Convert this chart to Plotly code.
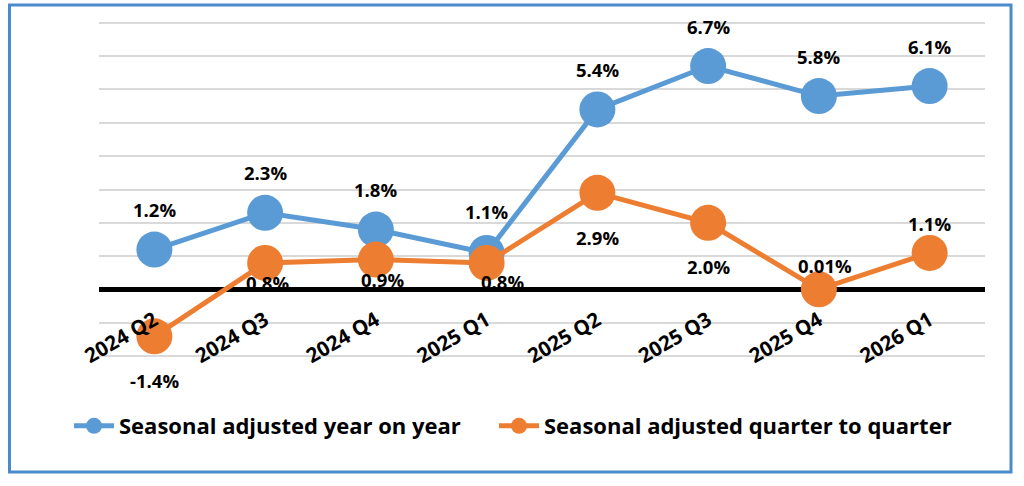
import plotly.graph_objects as go

categories = ["2024 Q2", "2024 Q3", "2024 Q4", "2025 Q1", "2025 Q2", "2025 Q3", "2025 Q4", "2026 Q1"]
yoy_values = [1.2, 2.3, 1.8, 1.1, 5.4, 6.7, 5.8, 6.1]
qoq_values = [-1.4, 0.8, 0.9, 0.8, 2.9, 2.0, 0.01, 1.1]
yoy_labels = ["1.2%", "2.3%", "1.8%", "1.1%", "5.4%", "6.7%", "5.8%", "6.1%"]
qoq_labels = ["-1.4%", "0.8%", "0.9%", "0.8%", "2.9%", "2.0%", "0.01%", "1.1%"]
yoy_name = "Seasonal adjusted year on year"
qoq_name = "Seasonal adjusted quarter to quarter"

# label offsets (pixels) - style only
yoy_dy = [40, 40, 40, 41, 40, 40, 40, 40]
yoy_dx = [0, 0, 0, 0, 0, 0, 0, 0]
qoq_dy = [-44, -20, -20, -19, -45, -44, 24, 29]
qoq_dx = [0, 2, 7, 16, 0, 0, 6, 0]

BLUE = "#5b9bd5"
ORANGE = "#ed7d31"
FONT = "Open Sans"

W, H = 1024, 486
L, R, T, B = 99, 985, 21, 358
YMIN, YMAX = -2.05, 8.05

fig = go.Figure()
fig.add_trace(go.Scatter(
    x=categories, y=yoy_values, name=yoy_name, mode="lines+markers",
    line=dict(color=BLUE, width=5), marker=dict(color=BLUE, size=36),
    legend="legend",
))
fig.add_trace(go.Scatter(
    x=categories, y=qoq_values, name=qoq_name, mode="lines+markers",
    line=dict(color=ORANGE, width=5), marker=dict(color=ORANGE, size=36),
    legend="legend2",
))

anns = []
for c, v, t, dy, dx in zip(categories, yoy_values, yoy_labels, yoy_dy, yoy_dx):
    anns.append(dict(x=c, y=v, text=t, showarrow=False, yshift=dy, xshift=dx,
                     font=dict(family=FONT, size=18.5, color="black", weight="bold")))
for c, v, t, dy, dx in zip(categories, qoq_values, qoq_labels, qoq_dy, qoq_dx):
    anns.append(dict(x=c, y=v, text=t, showarrow=False, yshift=dy, xshift=dx,
                     font=dict(family=FONT, size=18.5, color="black", weight="bold")))

pw, ph = R - L, B - T
def px(xp):
    return (xp - L) / pw
def py(yp):
    return (B - yp) / ph

legend_font = dict(family=FONT, size=22, color="black", weight="bold")

fig.update_layout(
    width=W, height=H,
    margin=dict(l=L, r=W - R, t=T, b=H - B, pad=0, autoexpand=False),
    paper_bgcolor="white", plot_bgcolor="white",
    font=dict(family=FONT, color="black"),
    annotations=anns,
    showlegend=True,
    legend=dict(orientation="h", x=px(69), xanchor="left", y=py(426), yanchor="middle",
                font=legend_font, itemwidth=40, bgcolor="rgba(0,0,0,0)"),
    legend2=dict(orientation="h", x=px(494), xanchor="left", y=py(426), yanchor="middle",
                 font=legend_font, itemwidth=40, bgcolor="rgba(0,0,0,0)"),
    xaxis=dict(type="category", range=[-0.5, len(categories) - 0.5],
               showgrid=False, showline=False, ticks="", zeroline=False,
               anchor="free", position=(0 - YMIN) / (YMAX - YMIN), automargin=False,
               tickangle=-30, ticklabelstandoff=14,
               tickfont=dict(family=FONT, size=20.5, color="black", weight="bold")),
    yaxis=dict(range=[YMIN, YMAX], dtick=1, showticklabels=False, ticks="",
               showgrid=True, gridcolor="#d9d9d9", gridwidth=1.5, automargin=False,
               zeroline=True, zerolinecolor="black", zerolinewidth=4.5,
               showline=False),
    shapes=[dict(type="rect", xref="paper", yref="paper",
                 x0=px(9.5), x1=px(1011), y0=py(472), y1=py(5),
                 line=dict(color="#4a8bcb", width=3), fillcolor="rgba(0,0,0,0)",
                 layer="below")],
)

fig.write_html("out.html", config={"displayModeBar": False},
               post_script="document.body.style.margin='0';")
